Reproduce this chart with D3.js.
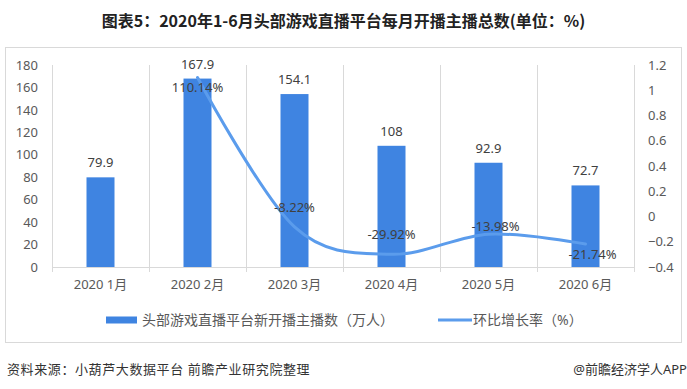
<!DOCTYPE html>
<html>
<head>
<meta charset="utf-8">
<script src="https://cdn.jsdelivr.net/npm/d3@7"></script>
<style>
  body { margin: 0; background: #fff; }
  svg text { font-family: "Noto Sans", "Noto Sans CJK SC", sans-serif; }
</style>
</head>
<body>
<div id="chart"></div>
<script>
// data
const months = ["2020 1月", "2020 2月", "2020 3月", "2020 4月", "2020 5月", "2020 6月"];
const anchors = [79.9, 167.9, 154.1, 108, 92.9, 72.7];
const growth = [null, 1.1014, -0.0822, -0.2992, -0.1398, -0.2174];
const growthLabels = ["", "110.14%", "-8.22%", "-29.92%", "-13.98%", "-21.74%"];
const growthLabelSide = ["", "below", "above", "above", "above", "below"];
const leftTicks = [0, 20, 40, 60, 80, 100, 120, 140, 160, 180];
const rightTicks = [-0.4, -0.2, 0, 0.2, 0.4, 0.6, 0.8, 1, 1.2];

const W = 687, H = 389;
const margin = { left: 52, right: 53, top: 65, bottom: 122 };
const barColor = "#3f84e1", lineColor = "#5b9cec", gridColor = "#d9d9d9";

const svg = d3.select("#chart").append("svg")
    .attr("width", W)
    .attr("height", H);

// title
svg.append("text")
    .attr("x", W / 2).attr("y", 27)
    .attr("text-anchor", "middle")
    .style("font-family", "'Noto Sans CJK SC', sans-serif")
    .style("font-weight", "bold")
    .style("font-size", "16px")
    .attr("fill", "#222")
    .text("图表5：2020年1-6月头部游戏直播平台每月开播主播总数(单位：%)");

// chart frame
svg.append("rect")
    .attr("x", 5.5).attr("y", 47.5)
    .attr("width", 676).attr("height", 295)
    .attr("fill", "none")
    .attr("stroke", gridColor);

const x = d3.scaleBand()
    .domain(months)
    .range([margin.left, W - margin.right])
    .paddingInner(0).paddingOuter(0);

const y = d3.scaleLinear()
    .domain([0, 180])
    .range([H - margin.bottom, margin.top]);

const y2 = d3.scaleLinear()
    .domain([-0.4, 1.2])
    .range([H - margin.bottom, margin.top]);

// vertical category lines
const edges = months.map(m => x(m)).concat([x.range()[1]]);
svg.append("g")
    .selectAll("line")
    .data(edges)
    .join("line")
    .attr("x1", d => Math.round(d) + 0.5).attr("x2", d => Math.round(d) + 0.5)
    .attr("y1", y.range()[1]).attr("y2", y(0) + 5)
    .attr("stroke", gridColor);

// x axis
const xAxis = svg.append("g")
    .attr("transform", `translate(0,${y(0)})`)
    .call(d3.axisBottom(x).tickSize(0).tickPadding(13));
xAxis.select(".domain").attr("stroke", gridColor);
xAxis.selectAll("text").style("font-size", "13px").attr("fill", "#595959");

// left axis
const yAxis = svg.append("g")
    .attr("transform", `translate(${margin.left - 8},0)`)
    .call(d3.axisLeft(y).tickValues(leftTicks).tickSize(0).tickPadding(6));
yAxis.select(".domain").remove();
yAxis.selectAll("text").style("font-size", "13px").attr("fill", "#595959");

// right axis
const y2Axis = svg.append("g")
    .attr("transform", `translate(${W - margin.right + 8},0)`)
    .call(d3.axisRight(y2).tickValues(rightTicks).tickSize(0).tickPadding(6)
        .tickFormat(d => d3.format("")(+d.toFixed(1))));
y2Axis.select(".domain").remove();
y2Axis.selectAll("text").style("font-size", "13px").attr("fill", "#595959");

// bars
const barW = 28;
svg.append("g")
    .selectAll("rect")
    .data(anchors)
    .join("rect")
    .attr("x", (d, i) => x(months[i]) + x.bandwidth() / 2 - barW / 2)
    .attr("y", d => y(d))
    .attr("width", barW)
    .attr("height", d => y(0) - y(d))
    .attr("fill", barColor);

svg.append("g")
    .selectAll("text")
    .data(anchors)
    .join("text")
    .attr("x", (d, i) => x(months[i]) + x.bandwidth() / 2)
    .attr("y", d => y(d) - 10)
    .attr("text-anchor", "middle")
    .style("font-size", "13px")
    .attr("fill", "#404040")
    .text(d => d);

// growth line
const pts = growth.map((g, i) => ({ g, i })).filter(d => d.g !== null);
const line = d3.line()
    .x(d => x(months[d.i]) + x.bandwidth() / 2)
    .y(d => y2(d.g))
    .curve(d3.curveCatmullRom.alpha(0));

svg.append("path")
    .datum(pts)
    .attr("d", line)
    .attr("fill", "none")
    .attr("stroke", lineColor)
    .attr("stroke-width", 3)
    .attr("stroke-linecap", "round");

svg.append("g")
    .selectAll("text")
    .data(pts)
    .join("text")
    .attr("x", d => x(months[d.i]) + x.bandwidth() / 2 + (d.i >= 4 ? 7 : 0))
    .attr("y", d => {
        const side = growthLabelSide[d.i];
        const py = y2(d.g);
        if (side === "below") return py + 15;
        return d.i === 4 ? py - 3 : py - 15;
    })
    .attr("text-anchor", "middle")
    .style("font-size", "13px")
    .attr("fill", "#404040")
    .text(d => growthLabels[d.i]);

// legend
const lg = svg.append("g").attr("transform", "translate(0,320)");
lg.append("rect")
    .attr("x", 106).attr("y", -3.5)
    .attr("width", 31).attr("height", 7)
    .attr("fill", barColor);
lg.append("text")
    .attr("x", 142).attr("y", 5)
    .style("font-size", "14px")
    .attr("fill", "#595959")
    .text("头部游戏直播平台新开播主播数（万人）");
lg.append("line")
    .attr("x1", 438).attr("x2", 472)
    .attr("y1", 0).attr("y2", 0)
    .attr("stroke", lineColor)
    .attr("stroke-width", 3);
lg.append("text")
    .attr("x", 473).attr("y", 5)
    .style("font-size", "14px")
    .attr("fill", "#595959")
    .text("环比增长率（%）");

// footer
svg.append("text")
    .attr("x", 7).attr("y", 374)
    .style("font-size", "13px")
    .style("letter-spacing", "0.6px")
    .attr("fill", "#333")
    .text("资料来源：小葫芦大数据平台 前瞻产业研究院整理");
svg.append("text")
    .attr("x", 687).attr("y", 374)
    .attr("text-anchor", "end")
    .style("font-size", "13px")
    .attr("fill", "#333")
    .text("@前瞻经济学人APP");
</script>
</body>
</html>
